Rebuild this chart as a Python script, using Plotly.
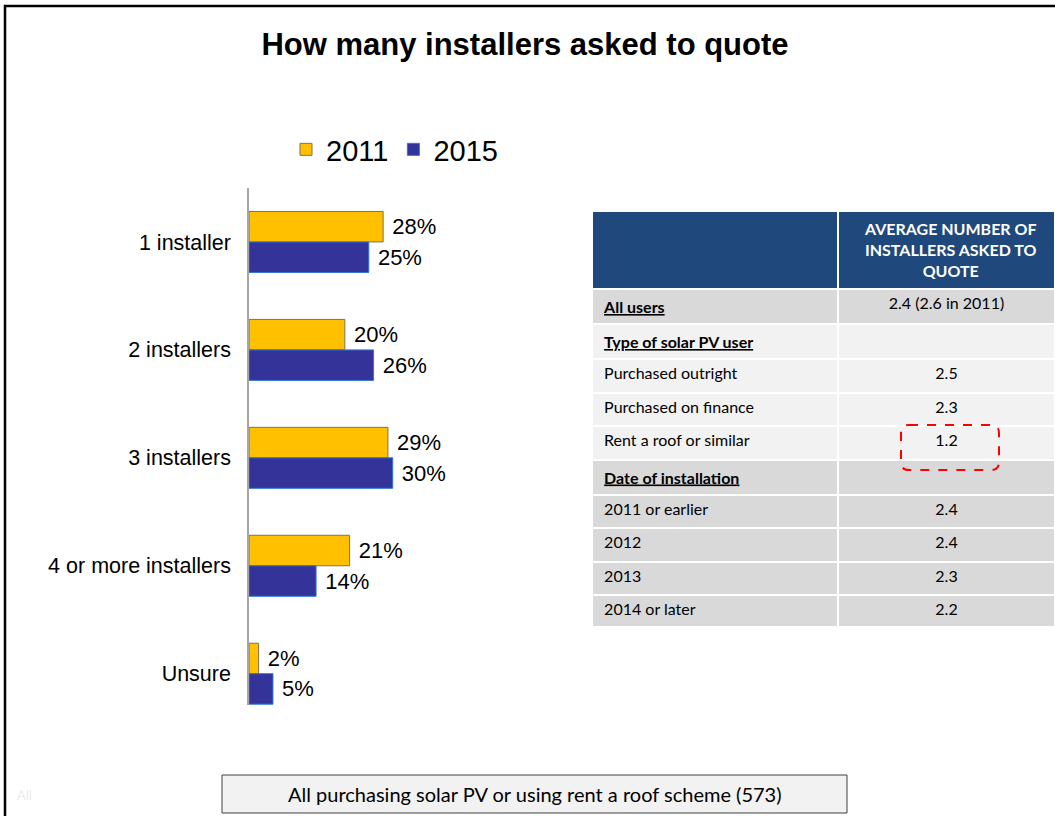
import plotly.graph_objects as go

W, H = 1055, 816

categories = ["1 installer", "2 installers", "3 installers", "4 or more installers", "Unsure"]
values_2011 = [28, 20, 29, 21, 2]
values_2015 = [25, 26, 30, 14, 5]

table_header = "<b>AVERAGE NUMBER OF<br>INSTALLERS ASKED TO<br>QUOTE</b>"
table_labels = [
    "<b><u>All users</u></b>",
    "<b><u>Type of solar PV user</u></b>",
    "Purchased outright",
    "Purchased on finance",
    "Rent a roof or similar",
    "<b><u>Date of installation</u></b>",
    "2011 or earlier",
    "2012",
    "2013",
    "2014 or later",
]
table_values = ["2.4 (2.6 in 2011)", "", "2.5", "2.3", "1.2", "", "2.4", "2.4", "2.3", "2.2"]
row_fills = ["#D9D9D9", "#F2F2F2", "#F2F2F2", "#F2F2F2", "#F2F2F2",
             "#D9D9D9", "#D9D9D9", "#D9D9D9", "#D9D9D9", "#D9D9D9"]


def px(x):
    return x / W


def py(y):
    return 1 - y / H


FONT = "Arial, Liberation Sans, sans-serif"
TFONT = "Lato, Open Sans, sans-serif"

fig = go.Figure()

fig.add_trace(go.Bar(
    name="2011", y=categories, x=values_2011, orientation="h",
    marker=dict(color="#FFC000", line=dict(color="#7F7358", width=1)),
    texttemplate="\u00a0%{x}%", textposition="outside", cliponaxis=False,
    textfont=dict(family=FONT, size=22, color="#000000"),
))
fig.add_trace(go.Bar(
    name="2015", y=categories, x=values_2015, orientation="h",
    marker=dict(color="#333399", line=dict(color="#2E75D6", width=1)),
    texttemplate="\u00a0%{x}%", textposition="outside", cliponaxis=False,
    textfont=dict(family=FONT, size=22, color="#000000"),
))

col_w = [246, 217]
fig.add_trace(go.Table(
    domain=dict(x=[px(592), 1.0], y=[py(626), py(211)]),
    columnwidth=col_w,
    header=dict(
        values=["", ""],
        fill_color="#1F497D",
        line=dict(color="white", width=2),
        align="center",
        height=78,
        font=dict(family=TFONT, size=16, color="white"),
    ),
    cells=dict(
        values=[["\u00a0" + t for t in table_labels], table_values],
        fill_color=[row_fills, row_fills],
        line=dict(color="white", width=2),
        align=["left", "center"],
        height=33.5,
        font=dict(family=TFONT, size=16, color="#000000"),
    ),
))

shapes = []
# outer frame
shapes.append(dict(type="rect", xref="paper", yref="paper",
                   x0=px(5), x1=px(1070), y0=py(840), y1=py(6),
                   line=dict(color="black", width=2.5), fillcolor="rgba(0,0,0,0)", layer="below"))
# red dashed rounded highlight
x0, x1, y0, y1, r = 901, 999, 425, 470, 8
path = (f"M {px(x0 + r)} {py(y0)} L {px(x1 - r)} {py(y0)} "
        f"Q {px(x1)} {py(y0)} {px(x1)} {py(y0 + r)} L {px(x1)} {py(y1 - r)} "
        f"Q {px(x1)} {py(y1)} {px(x1 - r)} {py(y1)} L {px(x0 + r)} {py(y1)} "
        f"Q {px(x0)} {py(y1)} {px(x0)} {py(y1 - r)} L {px(x0)} {py(y0 + r)} "
        f"Q {px(x0)} {py(y0)} {px(x0 + r)} {py(y0)} Z")
shapes.append(dict(type="path", xref="paper", yref="paper", path=path,
                   line=dict(color="#FF0000", width=2, dash="dash")))
# base box
shapes.append(dict(type="rect", xref="paper", yref="paper",
                   x0=px(222), x1=px(847), y0=py(813), y1=py(775),
                   line=dict(color="#404040", width=1), fillcolor="#F2F2F2"))

annotations = [
    dict(text=table_header, xref="paper", yref="paper", x=px(950), y=py(249),
         xanchor="center", yanchor="middle", align="center", showarrow=False,
         font=dict(family=TFONT, size=16, color="white")),
    dict(text="All purchasing solar PV or using rent a roof scheme (573)",
         xref="paper", yref="paper", x=px(534.5), y=py(794),
         xanchor="center", yanchor="middle", showarrow=False,
         font=dict(family=TFONT, size=20, color="#000000")),
    dict(text="All", xref="paper", yref="paper", x=px(15), y=py(795),
         xanchor="left", yanchor="middle", showarrow=False,
         font=dict(family=TFONT, size=13, color="#ECECEC")),
]

fig.update_layout(
    width=W, height=H,
    margin=dict(l=0, r=0, t=0, b=0),
    paper_bgcolor="white", plot_bgcolor="white",
    barmode="group", bargap=0.435, bargroupgap=0,
    title=dict(text="<b>How many installers asked to quote</b>",
               x=px(525), xanchor="center", y=py(44), yanchor="middle",
               font=dict(family=FONT, size=31, color="#000000")),
    legend=dict(orientation="h", x=px(286), y=py(124), xanchor="left", yanchor="top",
                font=dict(family=FONT, size=29, color="#000000"),
                bgcolor="rgba(0,0,0,0)", traceorder="normal"),
    xaxis=dict(domain=[px(249), px(570)], range=[0, 67], visible=False, fixedrange=True),
    yaxis=dict(domain=[py(705), py(188)], range=[4.29, -0.5], type="category",
               showline=True, linecolor="#A6A6A6", linewidth=1.5,
               ticks="outside", ticklen=12, tickcolor="rgba(0,0,0,0)",
               tickfont=dict(family=FONT, size=21.5, color="#000000"),
               showgrid=False, zeroline=False, fixedrange=True),
    shapes=shapes,
    annotations=annotations,
)

fig.write_html("out.html")
